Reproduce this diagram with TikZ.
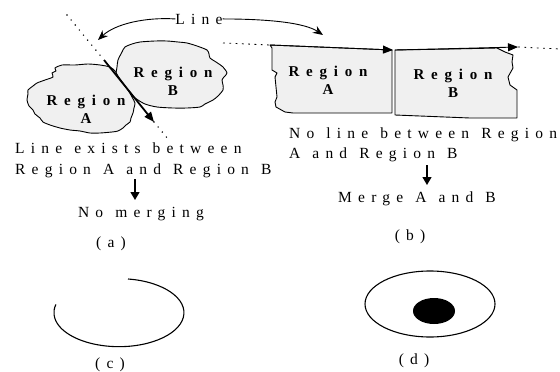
\documentclass[tikz,border=0pt]{standalone}
\usepackage{fontspec}
\setmainfont{Liberation Serif}
\newfontfamily\spaced[LetterSpace=40, WordSpace=1.2]{Liberation Serif}
\newfontfamily\spacedb[LetterSpace=45]{Liberation Serif}
\usetikzlibrary{positioning,arrows.meta,calc}

\begin{document}
\begin{tikzpicture}[
          x=1pt, y=-1pt,
          txt/.style={font=\spaced\fontsize{15.5}{18}\selectfont, inner sep=0pt},
          rlab/.style={font=\spacedb\bfseries\fontsize{15}{18}\selectfont, align=center, inner sep=0pt},
          region/.style={draw, fill=gray!12, line width=0.9pt, line join=round},
          darr/.style={-{Triangle[length=8pt,width=9pt]}, line width=1.3pt},
          carr/.style={-{Stealth[length=10pt,width=8pt]}, line width=0.9pt},
          tarr/.style={-{Triangle[length=10pt,width=8pt]}, line width=0.9pt},
          dotln/.style={line width=1.6pt, line cap=round, dash pattern=on 0pt off 6.5pt},
          dashln/.style={line width=0.8pt, dash pattern=on 1.8pt off 4.5pt}
      ]
        \useasboundingbox (0,0) rectangle (560,372);

        \draw[region] plot[smooth cycle, tension=0.45] coordinates {
          (118,60) (122,52) (125,47) (132,44) (140,42) (155,41) (167,41) (178,42)
          (187,43) (197,46) (207,50) (209,54) (210,58) (216,62) (223,67) (227,73)
          (224,77) (222,80) (223,85) (223,90) (218,96) (213,100) (205,104) (200,107)
          (187,108) (173,108) (157,107) (145,104) (135,98) (125,90) (118,83) (116,75) (117,67)};
        \draw[region] plot[smooth cycle, tension=0.45] coordinates {
          (55,68) (62,65) (75,65) (88,64) (100,65) (110,67) (115,71) (118,76)
          (123,83) (128,90) (132,97) (135,103) (134,108) (133,113) (131,118) (130,122)
          (126,125) (123,128) (118,131) (112,132) (100,133) (90,133) (80,131) (70,130)
          (60,128) (50,125) (43,122) (40,118) (35,114) (33,110) (29,106) (27,100)
          (28,94) (28,90) (33,86) (37,83) (45,80) (53,77) (52,73) (56,71)};
        \node[rlab] (regA) at (86,109) {Region\\A};
        \node[rlab] (regB) at (173,81) {Region\\B};

        \coordinate (lS) at (67,15);
        \coordinate (lM) at (104,60);
        \coordinate (lT) at (154,122);
        \coordinate (lE) at (168,139);
        \draw[dotln] (lS) -- (lM);
        \draw[line width=1.8pt, -{Triangle[length=10pt,width=8pt]}] (lM) -- (lT);
        \draw[dotln] (lT) -- (lE);

        \draw[region] (270,45) -- (392,50) -- (392,113) -- (293,113) -- (285,112) -- (276,107)
          -- (275,102) -- (277,97) -- (275,77) -- (277,73) -- (272,70) -- (272,48) -- cycle;
        \draw[region] (395,50) -- (452,49) -- (497,48) -- (505,52) -- (513,55) -- (512,62)
          -- (513,68) -- (508,77) -- (510,85) -- (517,90) -- (517,118) -- (470,118) -- (395,115) -- cycle;
        \node[rlab] (boxA) at (328,80) {Region\\A};
        \node[rlab] (boxB) at (453,83) {Region\\B};

        \coordinate (bS) at (223,43);
        \coordinate (bA) at (270,45);
        \coordinate (bTA) at (393,50);
        \coordinate (bB) at (395,50);
        \coordinate (bTB) at (518,47);
        \coordinate (bE) at (560,49);
        \draw[dashln] (bS) -- (bA);
        \draw[tarr] (bA) -- (bTA);
        \draw[tarr] (bB) -- (bTB);
        \draw[dashln] (bTB) -- (bE);

        \node[txt, anchor=base] (line) at (199,24) {Line};
        \coordinate (cL) at (98,40);
        \coordinate (cR) at (323,35);
        \draw[carr] (line.west) .. controls (145,17) and (115,24) .. (cL);
        \draw[carr] (line.east) .. controls (270,19) and (305,23) .. (cR);

        \node[txt, anchor=base west] (exA1) at (15,153) {Line exists between};
        \node[txt, anchor=base west] (exA2) at (15,174) {Region A and Region B};
        \node[txt, anchor=base] (noM) at (141,217) {No merging};
        \node[txt, anchor=base] (capA) at (111,247) {(a)};
        \coordinate (aT) at (135,179);
        \coordinate (aB) at (135,200);
        \draw[darr] (aT) -- (aB);

        \node[txt, anchor=base west] (exB1) at (289,138) {No line between Region};
        \node[txt, anchor=base west] (exB2) at (289,158) {A and Region B};
        \node[txt, anchor=base] (merge) at (417,202) {Merge A and B};
        \node[txt, anchor=base] (capB) at (410,240) {(b)};
        \coordinate (mT) at (427,165);
        \coordinate (mB) at (427,185);
        \draw[darr] (mT) -- (mB);

        \draw[line width=1.1pt] (128,279) arc[start angle=82, end angle=-194, x radius=65pt, y radius=34pt];
        \node[txt, anchor=base] (capC) at (110,368) {(c)};

        \draw[line width=1.1pt] (430,304) ellipse [x radius=65pt, y radius=33pt];
        \fill (434,311) ellipse [x radius=21pt, y radius=13pt];
        \node[txt, anchor=base] (capD) at (414,364) {(d)};
      \end{tikzpicture}
\end{document}
